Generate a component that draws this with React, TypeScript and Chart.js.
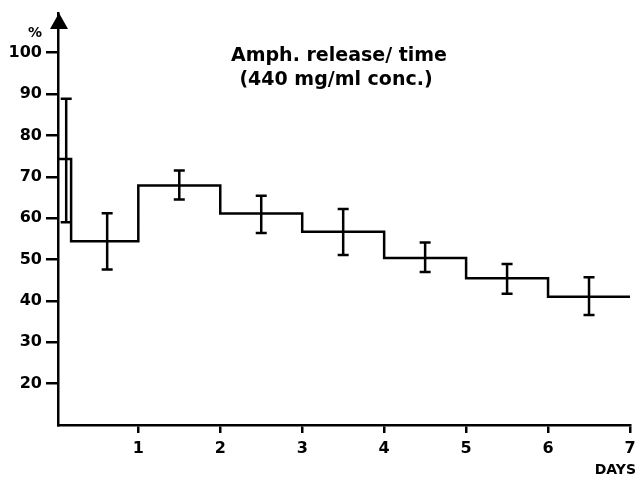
import React, { useEffect, useRef } from "react";
import { Chart, registerables } from "chart.js";

Chart.register(...registerables);

// Step profile: release (%) per interval start (days)
const stepDays = [0, 0.18, 1, 2, 3, 4, 5, 6, 7];
const stepValues = [74.3, 54.4, 67.9, 61.1, 56.7, 50.4, 45.5, 41.0, 41.0];

// Error bars
const errDays = [0.12, 0.62, 1.5, 2.5, 3.5, 4.5, 5.5, 6.5];
const errLow = [59.0, 47.6, 64.5, 56.4, 51.1, 47.0, 41.7, 36.6];
const errHigh = [88.9, 61.2, 71.5, 65.4, 62.2, 54.1, 48.9, 45.7];

const xTicks = [1, 2, 3, 4, 5, 6, 7];
const yTicks = [20, 30, 40, 50, 60, 70, 80, 90, 100];

const titleLines = ["Amph. release/ time", "(440 mg/ml conc.)"];
const yUnit = "%";
const xUnit = "DAYS";

const FONT = "'DejaVu Sans', sans-serif";

export default function App() {
  const ref = useRef<HTMLCanvasElement | null>(null);

  useEffect(() => {
    const canvas = ref.current;
    if (!canvas) return;

    const decor = {
      id: "decor",
      afterDatasetsDraw(chart: any) {
        const ctx = chart.ctx;
        const xs = chart.scales.x;
        const ys = chart.scales.y;
        ctx.save();
        ctx.strokeStyle = "#000";
        ctx.lineWidth = 2.5;
        const cap = 5.5;
        errDays.forEach((d, i) => {
          const x = xs.getPixelForValue(d);
          const y1 = ys.getPixelForValue(errLow[i]);
          const y2 = ys.getPixelForValue(errHigh[i]);
          ctx.beginPath();
          ctx.moveTo(x, y1);
          ctx.lineTo(x, y2);
          ctx.moveTo(x - cap, y1);
          ctx.lineTo(x + cap, y1);
          ctx.moveTo(x - cap, y2);
          ctx.lineTo(x + cap, y2);
          ctx.stroke();
        });
        ctx.restore();
      },
      afterDraw(chart: any) {
        const ctx = chart.ctx;
        const area = chart.chartArea;
        ctx.save();
        // arrow on y axis
        const ax = area.left + 1;
        ctx.fillStyle = "#000";
        ctx.beginPath();
        ctx.moveTo(ax, area.top);
        ctx.lineTo(ax - 9, area.top + 16);
        ctx.lineTo(ax + 9, area.top + 16);
        ctx.closePath();
        ctx.fill();
        // title
        ctx.fillStyle = "#000";
        ctx.textAlign = "center";
        ctx.textBaseline = "middle";
        ctx.font = `bold 19px ${FONT}`;
        ctx.fillText(titleLines[0], 339, 56);
        ctx.fillText(titleLines[1], 336, 80);
        // unit labels
        ctx.font = `bold 14px ${FONT}`;
        ctx.textAlign = "right";
        ctx.fillText(yUnit, 42, 33);
        ctx.font = `bold 14px ${FONT}`;
        ctx.textAlign = "right";
        ctx.fillText(xUnit, 636, 470);
        ctx.restore();
      },
    };

    const chart = new Chart(canvas, {
      type: "line",
      data: {
        datasets: [
          {
            data: stepDays.map((d, i) => ({ x: d, y: stepValues[i] })),
            stepped: "before",
            borderColor: "#000",
            borderWidth: 2.5,
            pointRadius: 0,
            fill: false,
          },
        ],
      },
      options: {
        responsive: false,
        animation: false,
        layout: { padding: { top: 13, right: 6, left: 0, bottom: 0 } },
        plugins: {
          legend: { display: false },
          tooltip: { enabled: false },
          title: { display: false },
        },
        scales: {
          x: {
            type: "linear",
            min: 0.02,
            max: 7,
            afterBuildTicks: (s: any) => {
              s.ticks = xTicks.map((v) => ({ value: v }));
            },
            afterFit: (s: any) => {
              s.height = 52;
              s.paddingLeft = 0;
              s.paddingRight = 0;
            },
            grid: {
              drawOnChartArea: false,
              drawTicks: true,
              tickLength: 8,
              color: "#000",
              lineWidth: 2.5,
            },
            border: { display: true, color: "#000", width: 2.5 },
            ticks: {
              color: "#000",
              padding: 6,
              maxRotation: 0,
              font: { family: FONT, size: 16, weight: "bold" },
              callback: (v: any) => String(v),
            },
          },
          y: {
            type: "linear",
            min: 10,
            max: 109.6,
            afterBuildTicks: (s: any) => {
              s.ticks = yTicks.map((v) => ({ value: v }));
            },
            afterFit: (s: any) => {
              s.width = 58;
              s.paddingTop = 0;
              s.paddingBottom = 0;
            },
            grid: {
              drawOnChartArea: false,
              drawTicks: true,
              tickLength: 12,
              color: "#000",
              lineWidth: 2.5,
            },
            border: { display: true, color: "#000", width: 2.5 },
            ticks: {
              color: "#000",
              padding: 4,
              font: { family: FONT, size: 16, weight: "bold" },
              callback: (v: any) => String(v),
            },
          },
        },
      },
      plugins: [decor],
    });

    return () => chart.destroy();
  }, []);

  return (
    <div style={{ position: "absolute", left: 0, top: 0, width: 636, height: 477, background: "#fff" }}>
      <canvas ref={ref} width={636} height={477} style={{ display: "block" }} />
    </div>
  );
}
